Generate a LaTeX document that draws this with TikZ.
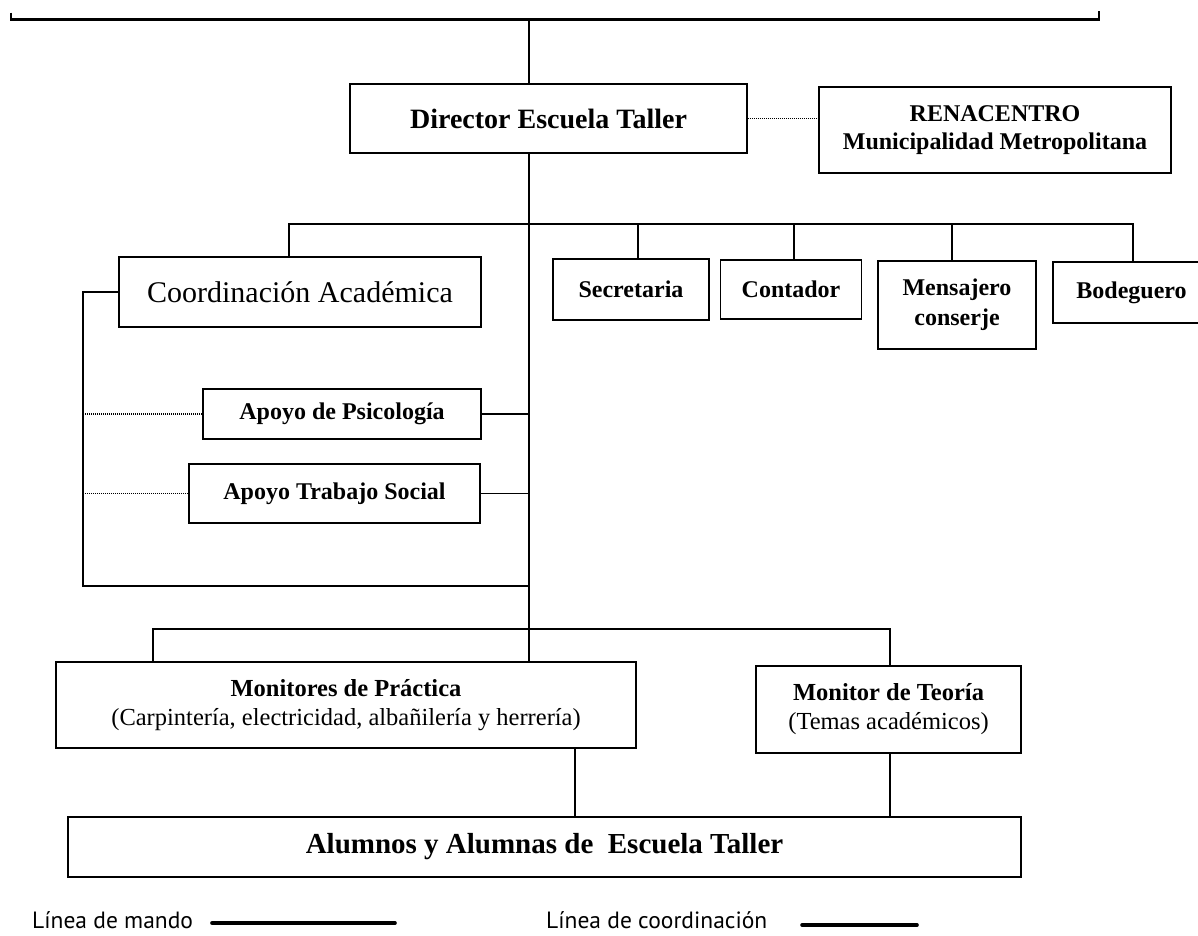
\documentclass[tikz,border=0pt]{standalone}
\usepackage{fontspec}
\setmainfont{Liberation Serif}
\newfontfamily\legendfont{PT Sans}
\usetikzlibrary{positioning}

\begin{document}
\begin{tikzpicture}[x=1pt,y=-1pt,
	box/.style={draw,line width=1.7pt,inner sep=0pt,align=center,
		font=\bfseries\fontsize{24}{28}\selectfont},
	link/.style={line width=1.4pt},
	coordline/.style={line width=1.3pt,dash pattern=on 1pt off 1pt},
	bar/.style={line width=2.6pt},
	legend/.style={inner sep=0pt,font=\legendfont\fontsize{23.5}{26}\selectfont},
	legendline/.style={line width=3.6pt,line cap=round}]
	
	\useasboundingbox (0,0) rectangle (1198,935);
	
	% boxes
	\node[box,minimum width=397,minimum height=69,font=\bfseries\fontsize{28}{30}\selectfont] (dir) at (548.5,118.5) {Director Escuela Taller};
	\node[box,minimum width=352,minimum height=86] (ren) at (995,130) {RENACENTRO\\Municipalidad Metropolitana};
	\node[box,minimum width=362,minimum height=70,font=\fontsize{30}{32}\selectfont] (coord) at (300,292) {Coordinación Académica};
	\node[box,minimum width=156,minimum height=61] (sec) at (631,289.5) {Secretaria};
	\node[box,minimum width=141,minimum height=59] (cont) at (791,289.5) {Contador};
	\node[box,minimum width=158,minimum height=88,font=\bfseries\fontsize{24}{30}\selectfont] (mens) at (957,305) {Mensajero\\conserje};
	\node[box,minimum width=157,minimum height=61] (bod) at (1131.5,292.5) {Bodeguero};
	\node[box,minimum width=278,minimum height=50] (psi) at (342,414) {Apoyo de Psicología};
	\node[box,minimum width=291,minimum height=59] (soc) at (334.5,493.5) {Apoyo Trabajo Social};
	\node[box,minimum width=580,minimum height=86,font=\fontsize{24.5}{29}\selectfont] (mpr) at (346,705) {\textbf{Monitores de Práctica}\\(Carpintería, electricidad, albañilería y herrería)};
	\node[box,minimum width=265,minimum height=87,font=\fontsize{24.5}{29}\selectfont] (mte) at (888.5,709.5) {\textbf{Monitor de Teoría}\\(Temas académicos)};
	\node[box,minimum width=953,minimum height=60,font=\bfseries\fontsize{29}{31}\selectfont] (alu) at (544.5,847) {Alumnos y Alumnas de\ \ Escuela Taller};
	
	% junctions
	\coordinate (top_l) at (11,19.5);
	\coordinate (top_r) at (1099,19.5);
	\coordinate (top_j) at (529,19.5);
	\coordinate (c_coord) at (289,224);
	\coordinate (c_bod) at (1133,224);
	\coordinate (c_left) at (83,586);
	\coordinate (c_join) at (529,586);
	\coordinate (m_l) at (153,629);
	\coordinate (m_r) at (890,629);
	\coordinate (a_l) at (575,780);
	
	% command lines
	\draw[bar] ([yshift=7pt]top_l) -- (top_l) -- (top_r) -- ([yshift=9pt]top_r);
	\draw[link] (top_j) -- (top_j |- dir.north);
	\draw[link] (top_j |- dir.south) -- (top_j |- mpr.north);
	\draw[link] (c_coord |- coord.north) -- (c_coord) -- (c_bod) -- (c_bod |- bod.north);
	\foreach \n/\dx in {sec/7,cont/3,mens/-5}
		\draw[link] ([xshift=\dx pt]\n.north) |- (c_bod);
	\draw[link] (coord.west) -| (c_left) -- (c_join);
	\draw[link] (psi.east) -- (psi.east -| top_j);
	\draw[link] (soc.east) -- (soc.east -| top_j);
	\draw[link] (m_l |- mpr.north) -- (m_l) -- (m_r) -- (m_r |- mte.north);
	\draw[link] (a_l |- mpr.south) -- (a_l |- alu.north);
	\draw[link] (m_r |- mte.south) -- (m_r |- alu.north);
	
	% coordination lines
	\draw[coordline] (dir.east) -- (dir.east -| ren.west);
	\draw[coordline] (psi.west) -- (psi.west -| c_left);
	\draw[coordline] (soc.west) -- (soc.west -| c_left);
	
	% legend
	\node[legend,anchor=base west] (lg_mando) at (32,928) {Línea de mando};
	\node[legend,anchor=base west] (lg_coord) at (546,928) {Línea de coordinación};
	\coordinate (lg_m) at (212,923);
	\coordinate (lg_c) at (802,925);
	\draw[legendline] (lg_m) -- ++(183,0);
	\draw[legendline] (lg_c) -- ++(115,0);
\end{tikzpicture}
\end{document}
